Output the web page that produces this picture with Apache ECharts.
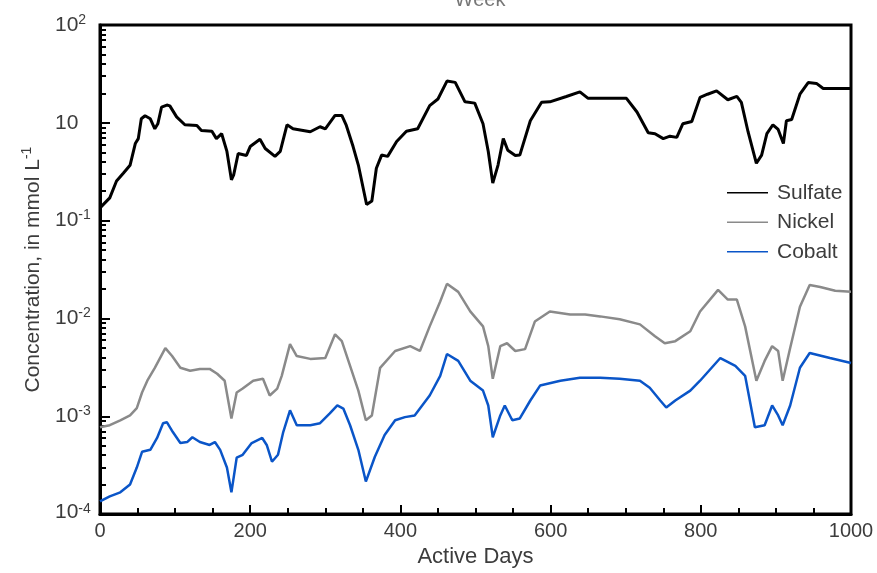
<!DOCTYPE html>
<html><head><meta charset="utf-8">
<script src="https://cdn.jsdelivr.net/npm/echarts@6/dist/echarts.min.js"></script>
<style>html,body{margin:0;padding:0;background:#fff}#c{width:877px;height:573px}</style>
</head><body><div id="c"></div><script>
// Values are in the chart's log-axis units (the axis spans 1e-4 .. 10; tick labels as printed in the figure)
const seriesNames = ['Sulfate', 'Nickel', 'Cobalt'];
const xTickLabels = ['0', '200', '400', '600', '800', '1000'];
const yTickValues = [1e-4, 1e-3, 1e-2, 1e-1, 1, 10];
const yTickExponents = ['-4', '-3', '-2', '-1', '', '2'];

const sulfate = [[0,0.135],[13,0.171],[22,0.254],[31,0.305],[40,0.368],[47,0.614],[51,0.689],[55,1.10],[60,1.18],[67,1.10],[73,0.869],[77,0.977],[82,1.45],[89,1.52],[93,1.49],[102,1.15],[113,0.955],[129,0.94],[135,0.836],[149,0.82],[155,0.689],[162,0.774],[169,0.51],[175,0.261],[178,0.294],[184,0.486],[195,0.464],[200,0.572],[213,0.678],[220,0.546],[233,0.454],[240,0.51],[249,0.955],[257,0.869],[280,0.811],[293,0.912],[300,0.869],[313,1.19],[322,1.19],[328,0.94],[337,0.572],[344,0.37],[355,0.146],[362,0.159],[368,0.343],[375,0.468],[383,0.454],[395,0.643],[408,0.82],[423,0.869],[439,1.50],[450,1.75],[462,2.67],[473,2.59],[486,1.64],[499,1.59],[510,0.977],[517,0.51],[523,0.242],[530,0.37],[537,0.689],[543,0.525],[553,0.464],[559,0.468],[573,1.05],[588,1.62],[599,1.64],[621,1.86],[639,2.07],[650,1.78],[701,1.78],[715,1.29],[730,0.792],[739,0.774],[750,0.689],[759,0.73],[768,0.71],[776,0.977],[788,1.03],[799,1.82],[809,1.96],[821,2.12],[836,1.72],[848,1.86],[854,1.62],[863,0.806],[874,0.386],[881,0.468],[888,0.774],[896,0.955],[903,0.855],[910,0.614],[914,1.05],[921,1.08],[932,1.96],[943,2.58],[954,2.53],[963,2.24],[1000,2.24]];

const nickel = [[0,7.74e-4],[13,8.1e-4],[27,9.1e-4],[40,1.02e-3],[49,1.21e-3],[56,1.75e-3],[63,2.31e-3],[73,3.13e-3],[87,4.98e-3],[96,4.13e-3],[107,3.13e-3],[120,2.92e-3],[133,3.05e-3],[146,3.05e-3],[156,2.72e-3],[166,2.31e-3],[175,9.5e-4],[182,1.75e-3],[190,1.92e-3],[204,2.31e-3],[217,2.42e-3],[226,1.63e-3],[236,1.92e-3],[242,2.59e-3],[253,5.46e-3],[262,4.13e-3],[280,3.86e-3],[300,3.95e-3],[313,6.89e-3],[322,5.86e-3],[333,3.27e-3],[344,1.83e-3],[354,9.1e-4],[362,1.02e-3],[373,3.13e-3],[393,4.65e-3],[413,5.21e-3],[426,4.65e-3],[439,8.3e-3],[453,1.49e-2],[462,2.26e-2],[477,1.87e-2],[493,1.18e-2],[510,8.3e-3],[517,5.21e-3],[523,2.42e-3],[533,5.21e-3],[542,5.58e-3],[553,4.65e-3],[566,4.86e-3],[579,9.3e-3],[599,1.18e-2],[626,1.10e-2],[646,1.10e-2],[666,1.05e-2],[692,9.8e-3],[719,8.7e-3],[739,6.58e-3],[752,5.58e-3],[766,5.86e-3],[786,7.4e-3],[799,1.18e-2],[823,1.96e-2],[836,1.56e-2],[848,1.56e-2],[859,8.3e-3],[874,2.31e-3],[885,3.68e-3],[895,5.21e-3],[903,4.65e-3],[909,2.31e-3],[919,4.98e-3],[932,1.32e-2],[945,2.2e-2],[959,2.1e-2],[979,1.92e-2],[1000,1.87e-2]];

const cobalt = [[0,1.35e-4],[13,1.52e-4],[27,1.67e-4],[40,2.01e-4],[49,2.99e-4],[56,4.33e-4],[67,4.54e-4],[76,6.0e-4],[84,8.5e-4],[89,8.7e-4],[97,6.9e-4],[107,5.33e-4],[116,5.45e-4],[123,6.1e-4],[133,5.45e-4],[146,5.09e-4],[153,5.45e-4],[160,4.54e-4],[169,2.99e-4],[175,1.67e-4],[182,3.77e-4],[190,4.04e-4],[202,5.33e-4],[216,6.0e-4],[222,5.09e-4],[229,3.43e-4],[237,4.04e-4],[244,6.9e-4],[253,1.15e-3],[262,8.1e-4],[280,8.1e-4],[293,8.5e-4],[306,1.07e-3],[316,1.29e-3],[324,1.2e-3],[333,8.1e-4],[344,4.54e-4],[354,2.15e-4],[366,3.86e-4],[379,6.43e-4],[393,9.1e-4],[406,9.8e-4],[419,1.02e-3],[439,1.63e-3],[453,2.59e-3],[462,4.33e-3],[477,3.68e-3],[493,2.31e-3],[510,1.83e-3],[517,1.29e-3],[523,6.1e-4],[533,1.02e-3],[539,1.29e-3],[549,9.1e-4],[559,9.5e-4],[573,1.45e-3],[586,2.06e-3],[613,2.31e-3],[639,2.48e-3],[666,2.48e-3],[692,2.42e-3],[719,2.31e-3],[732,1.96e-3],[746,1.45e-3],[754,1.23e-3],[766,1.45e-3],[786,1.83e-3],[799,2.31e-3],[826,3.94e-3],[846,3.27e-3],[859,2.59e-3],[872,7.74e-4],[885,8.1e-4],[895,1.29e-3],[903,1.02e-3],[909,8.1e-4],[919,1.29e-3],[932,3.13e-3],[945,4.44e-3],[972,3.94e-3],[1000,3.51e-3]];

const colors = ['#000000', '#8a8a8a', '#0a55c8'];
const textColor = '#3c3c3c';
const font = 'Liberation Sans, Arial, sans-serif';

const yMinorTicks = [];
for (let e = -4; e < 1; e++) for (let m = 2; m <= 9; m++) yMinorTicks.push(m * Math.pow(10, e));

const chart = echarts.init(document.getElementById('c'), null, {renderer: 'canvas'});
chart.setOption({
  animation: false,
  backgroundColor: '#fff',
  textStyle: {fontFamily: font},
  title: {
    text: 'Week', left: 475, top: -15, textAlign: 'center',
    textStyle: {fontSize: 20, fontWeight: 'normal', color: '#777', fontFamily: font}
  },
  grid: {left: 100, right: 26, top: 25, bottom: 53, show: true, borderColor: '#000', borderWidth: 3, backgroundColor: 'transparent'},
  legend: {
    orient: 'vertical', left: 722, top: 173, icon: 'rect', itemWidth: 41, itemHeight: 1.5, itemGap: 0,
    data: seriesNames,
    textStyle: {fontSize: 21, color: textColor, fontFamily: font, lineHeight: 29.5, padding: [0, 0, 0, 4]}
  },
  xAxis: {
    type: 'value', min: 0, max: 1000, interval: 200,
    name: 'Active Days', nameLocation: 'middle', nameGap: 23,
    nameTextStyle: {fontSize: 22, color: textColor, fontFamily: font},
    axisLine: {show: true, lineStyle: {color: '#000', width: 3}},
    axisTick: {show: true, inside: true, length: 9, lineStyle: {color: '#000', width: 2}},
    minorTick: {show: true, splitNumber: 4, length: 6, lineStyle: {color: '#000', width: 2}},
    splitLine: {show: false},
    axisLabel: {fontSize: 20, color: textColor, margin: 7, fontFamily: font,
      formatter: v => xTickLabels[Math.round(v / 200)] }
  },
  yAxis: [{
    type: 'log', logBase: 10, min: 1e-4, max: 10,
    name: '{n|Concentration, in mmol L}{s|-1}', nameLocation: 'middle', nameGap: 46, nameRotate: 90,
    nameTextStyle: {color: textColor, rich: {
      n: {fontSize: 21, color: textColor, fontFamily: font, lineHeight: 26},
      s: {fontSize: 14, color: textColor, fontFamily: font, verticalAlign: 'top', lineHeight: 14}
    }},
    axisLine: {show: true, lineStyle: {color: '#000', width: 3}},
    axisTick: {show: true, inside: true, length: 10, customValues: yTickValues, lineStyle: {color: '#000', width: 2}},
    splitLine: {show: false},
    axisLabel: {
      customValues: yTickValues, margin: 45, align: 'left', color: textColor,
      formatter: v => {
        const i = Math.round(Math.log10(v)) + 4;
        const ex = yTickExponents[i];
        if (i === 0) return '{c|10}{d|' + ex + '}';
        return ex ? '{b|10}{s|' + ex + '}' : '{b|10}';
      },
      rich: {
        b: {fontSize: 21, color: textColor, fontFamily: font, lineHeight: 24},
        s: {fontSize: 14, color: textColor, fontFamily: font, verticalAlign: 'top', lineHeight: 14},
        c: {fontSize: 21, color: textColor, fontFamily: font, lineHeight: 24, verticalAlign: 'top', padding: [0, 0, 22, 0]},
        d: {fontSize: 14, color: textColor, fontFamily: font, verticalAlign: 'top', lineHeight: 14}
      }
    }
  }, {
    type: 'log', logBase: 10, min: 1e-4, max: 10, position: 'left',
    axisLine: {show: false},
    axisLabel: {show: false},
    splitLine: {show: false},
    axisTick: {show: true, inside: true, length: 6, customValues: yMinorTicks, lineStyle: {color: '#000', width: 2}}
  }],
  series: [
    {name: seriesNames[0], type: 'line', data: sulfate, symbol: 'none', lineStyle: {color: colors[0], width: 3}, itemStyle: {color: colors[0]}, z: 3},
    {name: seriesNames[1], type: 'line', data: nickel, symbol: 'none', lineStyle: {color: colors[1], width: 2.5}, itemStyle: {color: colors[1]}, z: 2},
    {name: seriesNames[2], type: 'line', data: cobalt, symbol: 'none', lineStyle: {color: colors[2], width: 2.5}, itemStyle: {color: colors[2]}, z: 2}
  ]
});
</script></body></html>
